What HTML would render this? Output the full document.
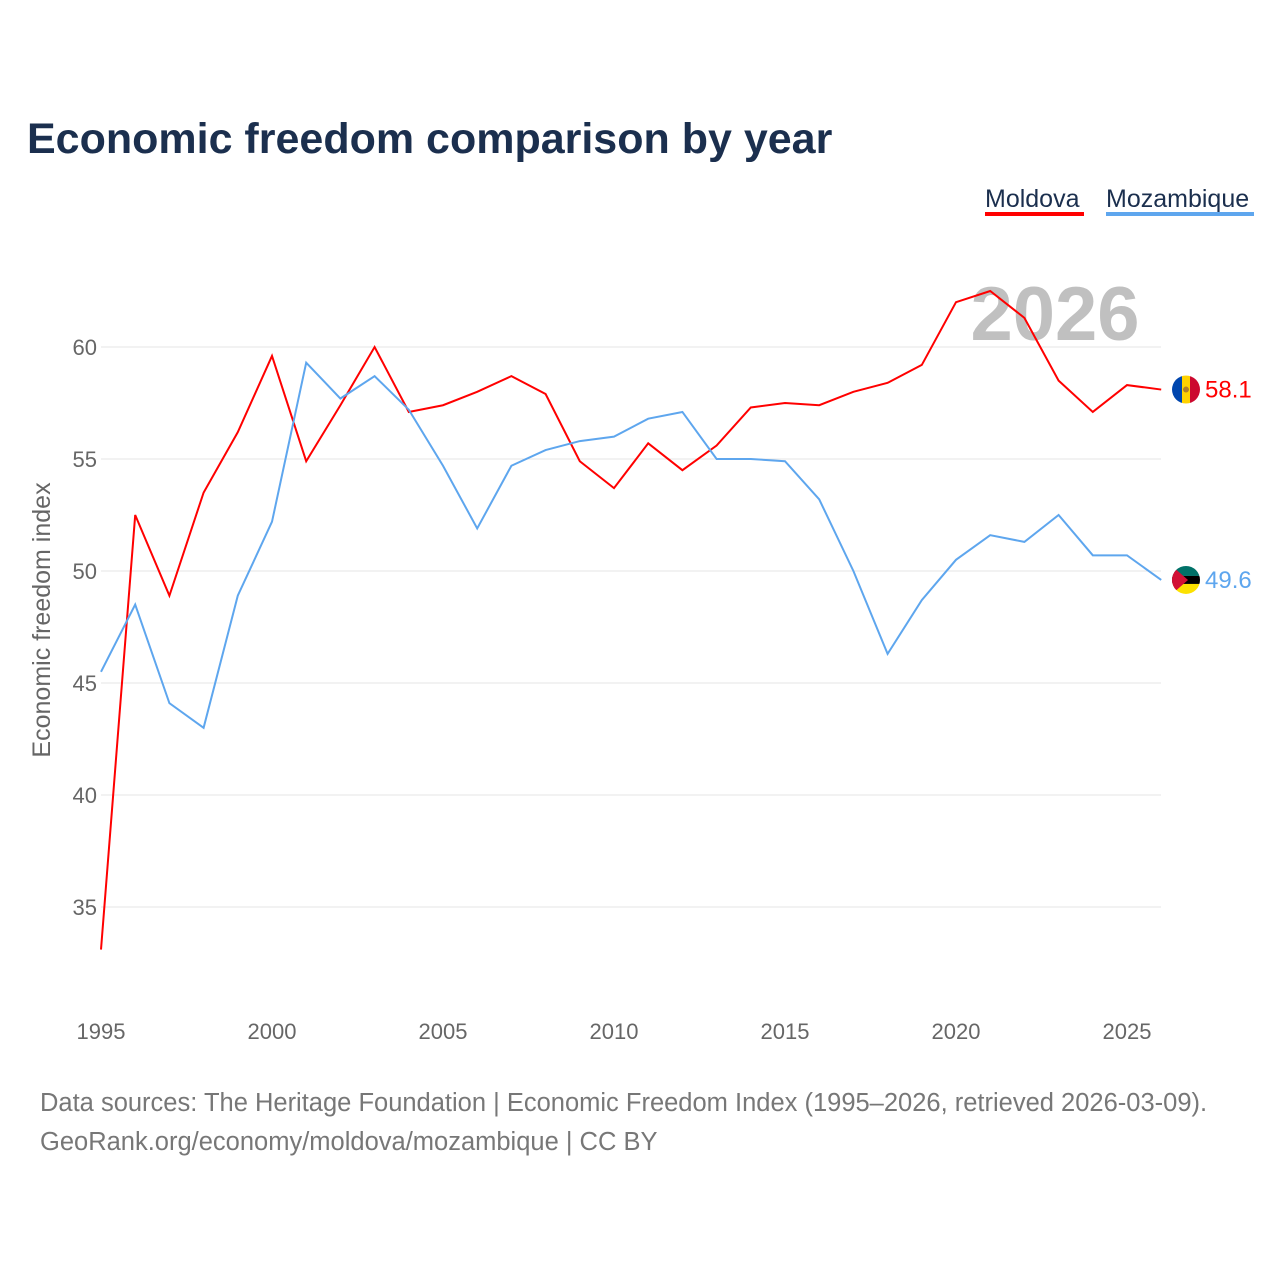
<!DOCTYPE html>
<html><head><meta charset="utf-8"><style>
body{margin:0;background:#fff;font-family:"Liberation Sans",sans-serif}
svg text{font-family:"Liberation Sans",sans-serif}
</style></head><body>
<svg width="1280" height="1280" viewBox="0 0 1280 1280">
<text x="27" y="153" font-size="43" font-weight="bold" fill="#1b2f4e">Economic freedom comparison by year</text>
<g>
<text x="985" y="207" font-size="25" fill="#1b2f4e">Moldova</text>
<rect x="985" y="212" width="99" height="4" fill="#ff0000"/>
<text x="1106" y="207" font-size="25" fill="#1b2f4e">Mozambique</text>
<rect x="1106" y="212" width="148" height="4" fill="#5ea6ee"/>
</g>
<text x="1055" y="340" font-size="76" font-weight="bold" fill="#c0c0c0" text-anchor="middle">2026</text>
<g id="grid"></g><g id="lines"></g>
<text transform="translate(50,620) rotate(-90)" font-size="25" fill="#666" text-anchor="middle">Economic freedom index</text>
<text x="40" y="1111" font-size="25.5" fill="#777">Data sources: The Heritage Foundation | Economic Freedom Index (1995–2026, retrieved 2026-03-09).</text>
<text x="40" y="1150" font-size="25.5" fill="#777">GeoRank.org/economy/moldova/mozambique | CC BY</text>
</svg>
<script>
const years=[1995,1996,1997,1998,1999,2000,2001,2002,2003,2004,2005,2006,2007,2008,2009,2010,2011,2012,2013,2014,2015,2016,2017,2018,2019,2020,2021,2022,2023,2024,2025,2026];
const moldova=[33.1,52.5,48.9,53.5,56.2,59.6,54.9,57.4,60.0,57.1,57.4,58.0,58.7,57.9,54.9,53.7,55.7,54.5,55.6,57.3,57.5,57.4,58.0,58.4,59.2,62.0,62.5,61.3,58.5,57.1,58.3,58.1];
const mozambique=[45.5,48.5,44.1,43.0,48.9,52.2,59.3,57.7,58.7,57.2,54.7,51.9,54.7,55.4,55.8,56.0,56.8,57.1,55.0,55.0,54.9,53.2,50.0,46.3,48.7,50.5,51.6,51.3,52.5,50.7,50.7,49.6];
const yTicks=[35,40,45,50,55,60];
const xTicks=[1995,2000,2005,2010,2015,2020,2025];
const NS="http://www.w3.org/2000/svg";
const xs=y=>101+(y-1995)*34.2;
const ys=v=>347+(60-v)*22.4;
function mk(t,a,p){const e=document.createElementNS(NS,t);for(const k in a)e.setAttribute(k,a[k]);p.appendChild(e);return e;}
const grid=document.getElementById('grid'),lines=document.getElementById('lines');
yTicks.forEach(v=>{
const l=mk('line',{x1:101,x2:1161,y1:ys(v),y2:ys(v),stroke:'#e6e6e6','stroke-width':1},grid);


const t=mk('text',{x:97,y:ys(v)+8,'font-size':22,fill:'#666','text-anchor':'end'},grid);t.textContent=v;


});
xTicks.forEach(y=>{
const t=mk('text',{x:xs(y),y:1039,'font-size':22,fill:'#666','text-anchor':'middle'},grid);t.textContent=y;


});
function series(vals,color,name,flag){
const p=mk('polyline',{points:vals.map((v,i)=>xs(years[i])+','+ys(v)).join(' '),fill:'none',stroke:color,'stroke-width':2},lines);


const last=vals[vals.length-1],cy=ys(last),cx=1186;
const g=mk('g',{},lines);


flag(g,cx,cy);
const t=mk('text',{x:1205,y:cy+8,'font-size':24,fill:color},lines);t.textContent=last.toFixed(1);


}
series(moldova,'#ff0000','moldova',(g,cx,cy)=>{
const cp=mk('clipPath',{id:'cm'},g);mk('circle',{cx:cx,cy:cy,r:14},cp);
const h=mk('g',{'clip-path':'url(#cm)'},g);
mk('rect',{x:cx-14,y:cy-14,width:10,height:28,fill:'#0046ae'},h);
mk('rect',{x:cx-4,y:cy-14,width:8,height:28,fill:'#ffd200'},h);
mk('rect',{x:cx+4,y:cy-14,width:10,height:28,fill:'#cc092f'},h);
mk('circle',{cx:cx,cy:cy,r:3,fill:'#b07e2a'},h);
});
series(mozambique,'#5ea6ee','mozambique',(g,cx,cy)=>{
const cp=mk('clipPath',{id:'cz'},g);mk('circle',{cx:cx,cy:cy,r:14},cp);
const h=mk('g',{'clip-path':'url(#cz)'},g);
mk('rect',{x:cx-14,y:cy-14,width:28,height:10,fill:'#007168'},h);
mk('rect',{x:cx-14,y:cy-4,width:28,height:8,fill:'#000'},h);
mk('rect',{x:cx-14,y:cy+4,width:28,height:10,fill:'#fce100'},h);
mk('polygon',{points:(cx-14)+','+(cy-14)+' '+(cx+2)+','+cy+' '+(cx-14)+','+(cy+14),fill:'#d21034'},h);
});
</script>
</body></html>
